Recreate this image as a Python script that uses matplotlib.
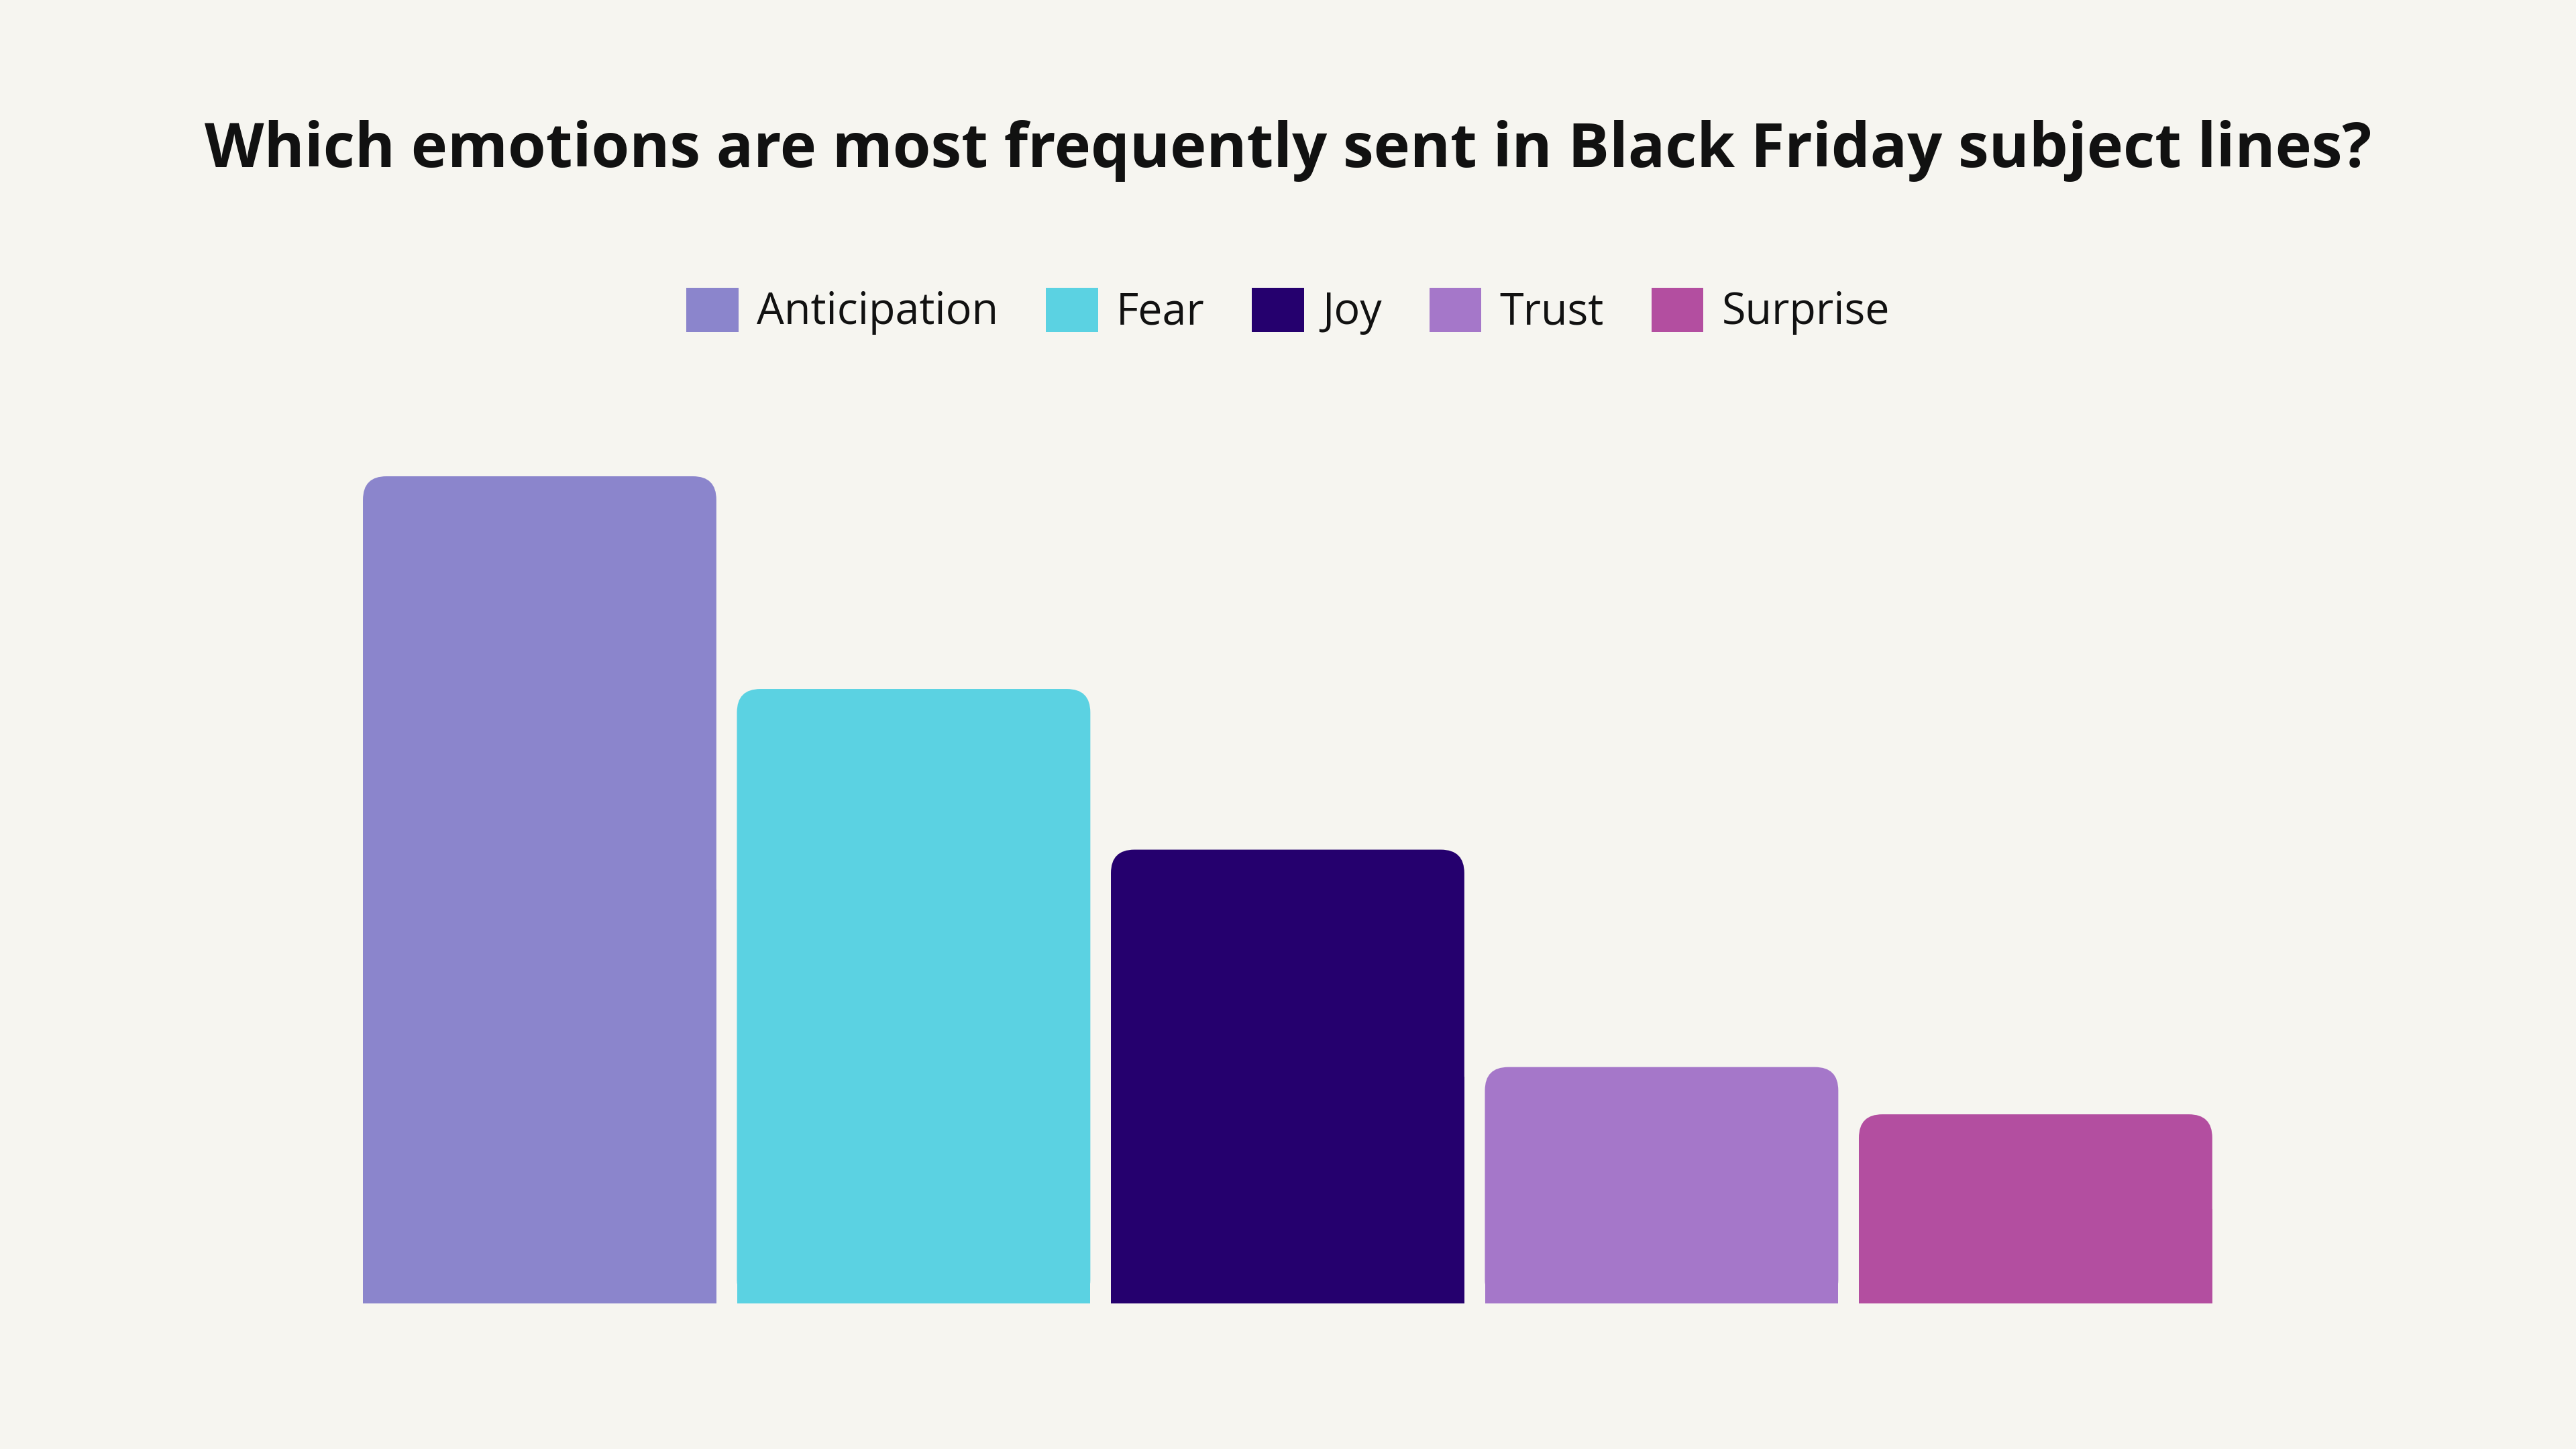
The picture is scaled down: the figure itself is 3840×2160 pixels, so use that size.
import matplotlib
matplotlib.use('Agg')
import matplotlib.pyplot as plt
from matplotlib.patches import FancyBboxPatch, Rectangle

emotions = ['Anticipation', 'Fear', 'Joy', 'Trust', 'Surprise']
counts = [35, 26, 19.2, 10, 8]
colors = ['#8B85CC', '#5BD2E2', '#25006E', '#A577C9', '#B34EA0']
bg = '#F6F5F0'

fig = plt.figure(figsize=(38.4, 21.6), dpi=100, facecolor=bg)
ax = fig.add_axes([0.1369, 0.1005, 0.7259, 0.5708])
ax.set_facecolor(bg)

bars = ax.bar(range(len(emotions)), counts, width=0.945, color=colors, label=emotions)
ax.set_xlim(-0.5, len(emotions) - 0.5)
ax.set_ylim(0, max(counts))
for s in ax.spines.values():
	s.set_visible(False)
ax.set_xticks([])
ax.set_yticks([])

# rounded tops: swap the plain rectangles for rounded ones
bb = ax.get_window_extent()
xpp = (ax.get_xlim()[1] - ax.get_xlim()[0]) / bb.width
ypp = (ax.get_ylim()[1] - ax.get_ylim()[0]) / bb.height
r_px = 35
for b in bars:
	b.set_visible(False)
	x, w, h = b.get_x(), b.get_width(), b.get_height()
	c = b.get_facecolor()
	ax.add_patch(FancyBboxPatch((x, 0), w, h, boxstyle='round,pad=0,rounding_size=%f' % (r_px * xpp),
			mutation_aspect=ypp / xpp, facecolor=c, edgecolor='none'))
	ax.add_patch(Rectangle((x, 0), w, h / 2, facecolor=c, edgecolor='none'))

fig.text(0.5, 1 - 249 / 2160, 'Which emotions are most frequently sent in Black Friday subject lines?',
		ha='center', va='baseline', fontsize=66, fontweight='bold', family='Open Sans', color='#111111')

handles = [Rectangle((0, 0), 1, 1, facecolor=c, edgecolor='none') for c in colors]
fig.legend(handles, emotions, loc='center', bbox_to_anchor=(0.5, 1 - 464 / 2160), ncol=5, frameon=False,
		prop={'family': 'Open Sans', 'weight': 'normal', 'size': 46.5}, handlelength=1.2, handleheight=1.2,
		handletextpad=0.42, columnspacing=1.1, labelcolor='#111111')

fig.savefig('out.png', dpi=100, facecolor=bg)
